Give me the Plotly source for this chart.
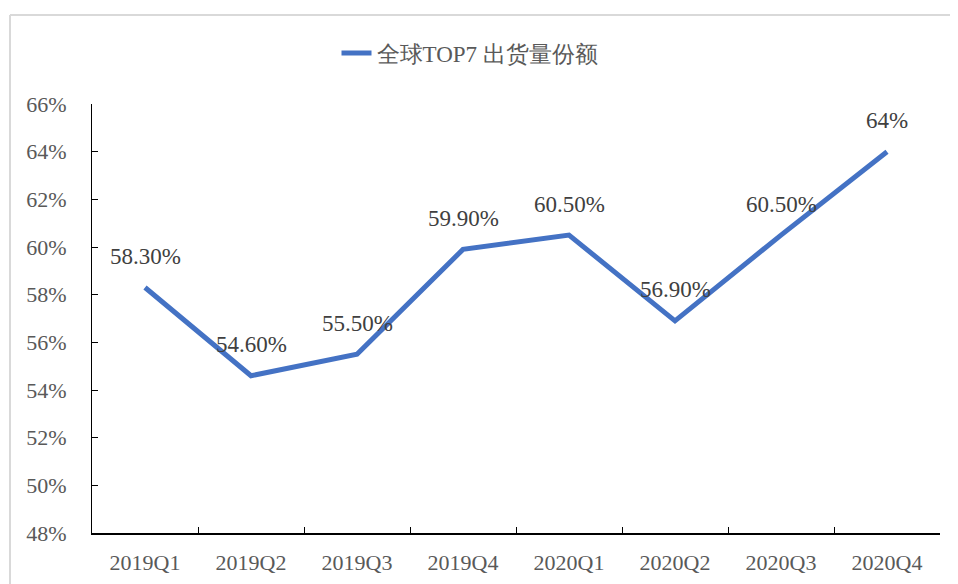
import plotly.graph_objects as go

quarters = ["2019Q1", "2019Q2", "2019Q3", "2019Q4", "2020Q1", "2020Q2", "2020Q3", "2020Q4"]
share = [58.3, 54.6, 55.5, 59.9, 60.5, 56.9, 60.5, 64.0]
share_labels = ["58.30%", "54.60%", "55.50%", "59.90%", "60.50%", "56.90%", "60.50%", "64%"]
y_ticks = [48, 50, 52, 54, 56, 58, 60, 62, 64, 66]
y_tick_labels = [f"{v}%" for v in y_ticks]
series_name = "全球TOP7 出货量份额"

# page body has an 8px margin, so the figure is placed at (8, 8)
OFF = 8
W, H = 958 - OFF, 584 - OFF
L, R, T, B = 92 - OFF, 18, 104 - OFF, 51
pw, ph = W - L - R, H - T - B

FONT = "Liberation Serif"

fig = go.Figure()
fig.add_trace(go.Scatter(
    x=quarters, y=share, mode="lines", name=series_name,
    line=dict(color="#4472C4", width=5), showlegend=True,
))

for q, v, lab in zip(quarters, share, share_labels):
    fig.add_annotation(x=q, y=v, text=lab, showarrow=False, yshift=31,
                       font=dict(family=FONT, size=23, color="#404040"))

# outer frame (light gray, top and left visible)
fx0 = (10 - OFF - L) / pw
fy1 = (H - B - (15 - OFF)) / ph
fig.add_shape(type="line", xref="paper", yref="paper", x0=fx0, x1=fx0, y0=-1, y1=fy1,
              line=dict(color="#D9D9D9", width=2))
fig.add_shape(type="line", xref="paper", yref="paper", x0=fx0, x1=2, y0=fy1, y1=fy1,
              line=dict(color="#D9D9D9", width=2))

fig.update_layout(
    width=W, height=H,
    margin=dict(l=L, r=R, t=T, b=B, autoexpand=False),
    paper_bgcolor="white", plot_bgcolor="white",
    font=dict(family=FONT, color="#595959"),
    legend=dict(orientation="h", x=(470 - OFF - L) / pw, xanchor="center",
                y=(H - B - (53 - OFF)) / ph, yanchor="middle",
                font=dict(family=FONT, size=23, color="#595959"),
                bgcolor="rgba(0,0,0,0)"),
    xaxis=dict(
        type="category", range=[-0.5, 7.5], showgrid=False,
        showline=True, linecolor="black", linewidth=1.5,
        ticks="inside", tickson="boundaries", ticklen=6, tickcolor="black", tickwidth=1,
        tickfont=dict(family=FONT, size=22, color="#595959"),
        ticklabelstandoff=9,
    ),
    yaxis=dict(
        range=[48, 66], tickvals=y_ticks, ticktext=y_tick_labels, showgrid=False,
        showline=True, linecolor="black", linewidth=1, zeroline=False,
        ticks="inside", ticklen=6, tickcolor="black", tickwidth=1,
        tickfont=dict(family=FONT, size=22, color="#595959"),
        ticklabelstandoff=20,
    ),
)

fig.write_html("out.html")
